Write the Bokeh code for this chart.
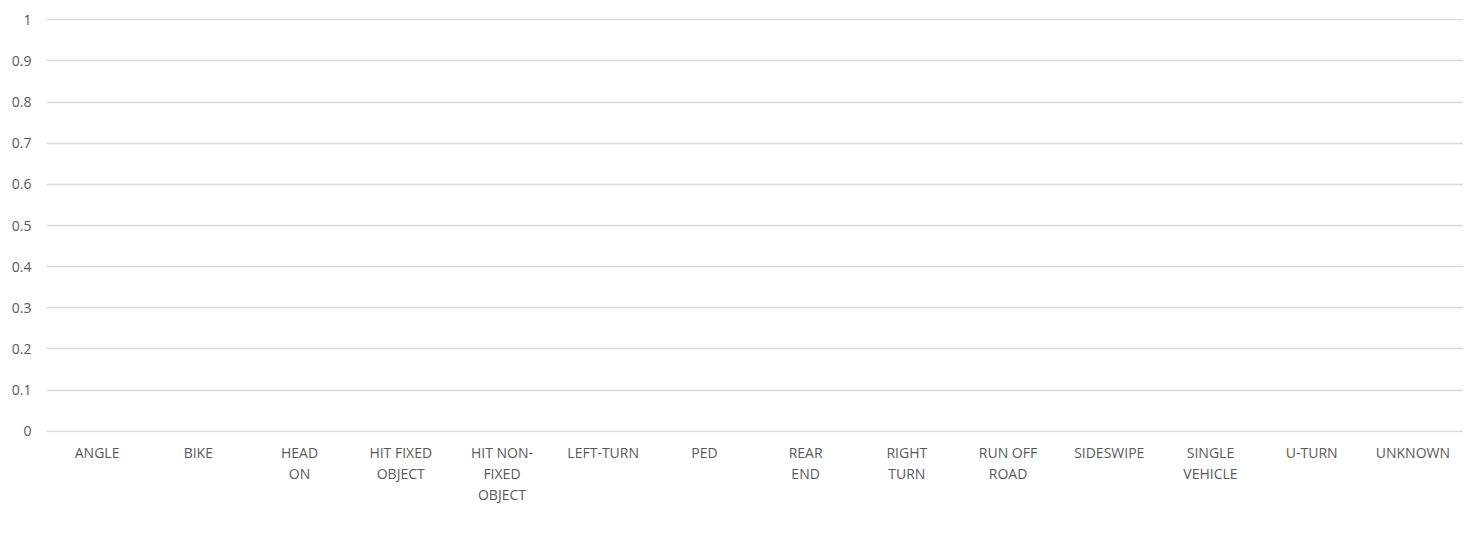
from bokeh.plotting import figure
from bokeh.models import Range1d, FixedTicker, Legend, LegendItem, LinearAxis
from bokeh.embed import file_html
from bokeh.resources import INLINE

categories = ["ANGLE", "BIKE", "HEAD ON", "HIT FIXED OBJECT", "HIT NON-FIXED OBJECT",
              "LEFT-TURN", "PED", "REAR END", "RIGHT TURN", "RUN OFF ROAD",
              "SIDESWIPE", "SINGLE VEHICLE", "U-TURN", "UNKNOWN"]
label_line1 = ["ANGLE", "BIKE", "HEAD", "HIT FIXED", "HIT NON-", "LEFT-TURN", "PED",
               "REAR", "RIGHT", "RUN OFF", "SIDESWIPE", "SINGLE", "U-TURN", "UNKNOWN"]
label_line2 = ["", "", "ON", "OBJECT", "FIXED", "", "", "END", "TURN", "ROAD",
               "", "VEHICLE", "", ""]
label_line3 = ["", "", "", "", "OBJECT", "", "", "", "", "", "", "", "", ""]
serious_injury = [0, 0, 0, 0, 0, 0, 0, 0, 0, 0, 0, 0, 0, 0]
fatal = [0, 0, 0, 0, 0, 0, 0, 0, 0, 0, 0, 0, 0, 0]
other_injury = [0, 0, 0, 0, 0, 0, 0, 0, 0, 0, 0, 0, 0, 0]
series_names = ["SERIOUS INJURY", "FATAL", "OTHER INJURY"]
colors = ["#FFD04A", "#0A5FB0", "#BFBFBF"]
y_ticks = [0, 0.1, 0.2, 0.3, 0.4, 0.5, 0.6, 0.7, 0.8, 0.9, 1]
y_labels = ["0", "0.1", "0.2", "0.3", "0.4", "0.5", "0.6", "0.7", "0.8", "0.9", "1"]

FONT = "Open Sans"
FS = "14px"
TXT = "#595959"

n_cat = len(categories)
cat_pos = [i + 0.5 for i in range(n_cat)]  # centre of each category slot

p = figure(x_range=Range1d(0, n_cat), y_range=Range1d(-0.003, 1.003),
           frame_width=1417, frame_height=414,
           output_backend="svg", toolbar_location=None, x_axis_location=None,
           min_border_left=46, min_border_top=18, min_border_right=0, min_border_bottom=0)

data = {"x": cat_pos, "cat": categories, "s": serious_injury, "f": fatal, "o": other_injury}
rs = p.vbar_stack(["s", "f", "o"], x="x", width=0.6, color=colors, source=data,
                  line_color=None)

p.outline_line_color = None
p.xgrid.grid_line_color = None
p.ygrid.grid_line_color = "#D9D9D9"
p.ygrid.grid_line_width = 1.3
p.ygrid.ticker = FixedTicker(ticks=y_ticks)

p.yaxis.ticker = FixedTicker(ticks=y_ticks)
p.yaxis.major_label_overrides = {t: l for t, l in zip(y_ticks, y_labels)}
p.yaxis.axis_line_color = None
p.yaxis.major_tick_line_color = None
p.yaxis.minor_tick_line_color = None
p.yaxis.major_tick_out = 0
p.yaxis.major_tick_in = 0
p.yaxis.minor_tick_out = 0
p.yaxis.major_label_standoff = 15
p.yaxis.major_label_text_font = FONT
p.yaxis.major_label_text_font_size = FS
p.yaxis.major_label_text_color = TXT


def make_axis(labels, standoff):
    ax = LinearAxis(ticker=FixedTicker(ticks=cat_pos))
    ax.major_label_overrides = {t: (l if l else " ") for t, l in zip(cat_pos, labels)}
    ax.axis_line_color = None
    ax.major_tick_line_color = None
    ax.minor_tick_line_color = None
    ax.major_tick_out = 0
    ax.major_tick_in = 0
    ax.minor_tick_out = 0
    ax.major_label_standoff = standoff
    ax.major_label_text_font = FONT
    ax.major_label_text_font_size = FS
    ax.major_label_text_color = TXT
    return ax


for labels, so in [(label_line1, 10), (label_line2, -1), (label_line3, -1)]:
    p.add_layout(make_axis(labels, so), "below")

legend = Legend(items=[LegendItem(label=n, renderers=[r]) for n, r in zip(series_names, rs)],
                orientation="horizontal", location="center",
                label_text_font=FONT, label_text_font_size=FS, label_text_color=TXT,
                glyph_width=10, glyph_height=10, label_standoff=4, spacing=62,
                padding=0, margin=15, border_line_color=None, background_fill_alpha=0,
                label_height=14)
p.add_layout(legend, "below")

open("out.html", "w").write(file_html(p, INLINE))
